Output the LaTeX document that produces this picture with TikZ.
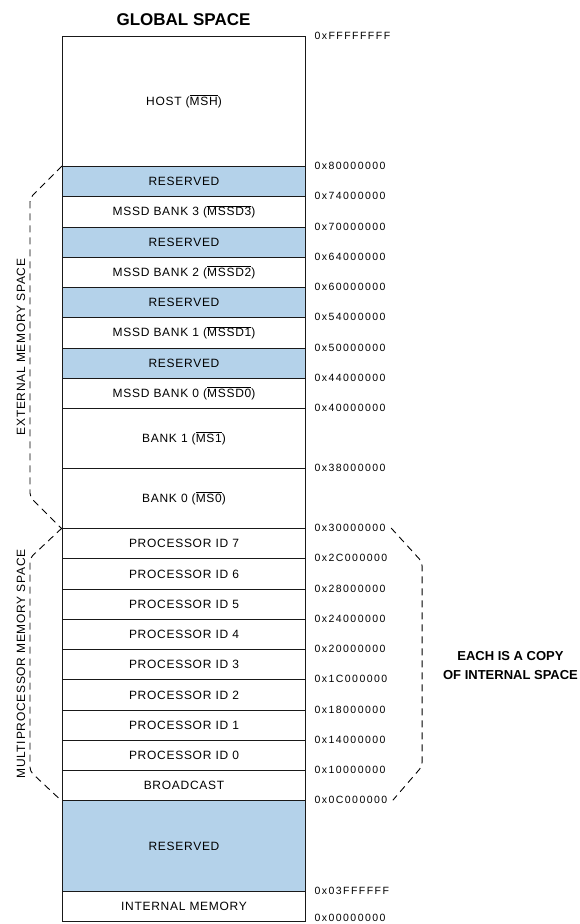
\documentclass[tikz,border=0pt]{standalone}
\usepackage{fontspec}
\setmainfont{Liberation Sans}
\newfontfamily\cellfont[LetterSpace=6]{Liberation Sans}
\newfontfamily\addrfont[LetterSpace=14]{Liberation Sans}
\usetikzlibrary{calc}
\definecolor{resblue}{RGB}{180,210,234}
\newcommand\ovl[1]{$\overline{\mbox{#1}}$}

\begin{document}
\begin{tikzpicture}[x=1pt,y=-1pt,
  region/.style={draw=black!90,line width=1pt,minimum width=243pt,inner sep=0pt,
    anchor=north west,font=\cellfont\fontsize{12}{14}\selectfont},
  resv/.style={region,fill=resblue},
  addr/.style={anchor=west,font=\addrfont\fontsize{10.5}{12}\selectfont},
  side/.style={font=\cellfont\fontsize{12}{14}\selectfont,rotate=90},
  brace/.style={line width=0.9pt,dash pattern=on 7pt off 5pt,rounded corners=4pt}]
\useasboundingbox (0,0) rectangle (580,924);

\node[font=\bfseries\fontsize{17}{20}\selectfont] (title) at (183.5,20) {GLOBAL SPACE};

% host and external banks
\node[region,minimum height=130pt] (host) at (62,36) {HOST (\ovl{MSH})};
\foreach \b in {3,2,1,0} {
  \node[resv,minimum height=30.25pt] (res\b) at (62,{166+(3-\b)*60.5}) {RESERVED};
  \node[region,minimum height=30.25pt] (mssd\b) at (62,{196.25+(3-\b)*60.5}) {MSSD BANK \b\ (\ovl{MSSD\b})};
}
\node[region,minimum height=60pt] (bank1) at (62,408) {BANK 1 (\ovl{MS1})};
\node[region,minimum height=60pt] (bank0) at (62,468) {BANK 0 (\ovl{MS0})};

% multiprocessor space
\foreach \p in {7,...,0}
  \node[region,minimum height=30.25pt] (pid\p) at (62,{528+(7-\p)*30.25}) {PROCESSOR ID \p};
\node[region,minimum height=30.25pt] (bcast) at (62,770) {BROADCAST};
\node[resv,minimum height=91pt] (resint) at (62,800.25) {RESERVED};
\node[region,minimum height=30pt] (intmem) at (62,891.25) {INTERNAL MEMORY};

% addresses
\foreach \y/\a in {36/FFFFFFFF, 166/80000000, 196.25/74000000, 226.5/70000000,
    256.75/64000000, 287/60000000, 317.25/54000000, 347.5/50000000,
    377.75/44000000, 408/40000000, 468/38000000, 528/30000000,
    558.25/2C000000, 588.5/28000000, 618.75/24000000, 649/20000000,
    679.25/1C000000, 709.5/18000000, 739.75/14000000, 770/10000000,
    800.25/0C000000, 891.25/03FFFFFF, 917.5/00000000}
  \node[addr] (a\a) at (311,\y) {0x\a};

% dashed brackets
\draw[brace] (res3.north west) -- ++(-32,32) -- ($(bank0.south west)+(-32,-32)$) -- (bank0.south west);
\draw[brace] (pid7.north west) -- ++(-32,30) -- ($(bcast.south west)+(-32,-30)$) -- (bcast.south west);
\draw[brace] ([xshift=2pt]a30000000.east) -- ++(31,34) coordinate (rtop)
  -- ($(rtop |- a0C000000.east)+(0,-34)$) -- ([xshift=2pt]a0C000000.east);

\node[side] (extlbl) at (21,347) {EXTERNAL MEMORY SPACE};
\node[side] (mplbl) at (21,664) {MULTIPROCESSOR MEMORY SPACE};
\node[font=\bfseries\fontsize{13}{19}\selectfont,align=center] (copy) at (510.5,665.5) {EACH IS A COPY\\OF INTERNAL SPACE};
\end{tikzpicture}
\end{document}
